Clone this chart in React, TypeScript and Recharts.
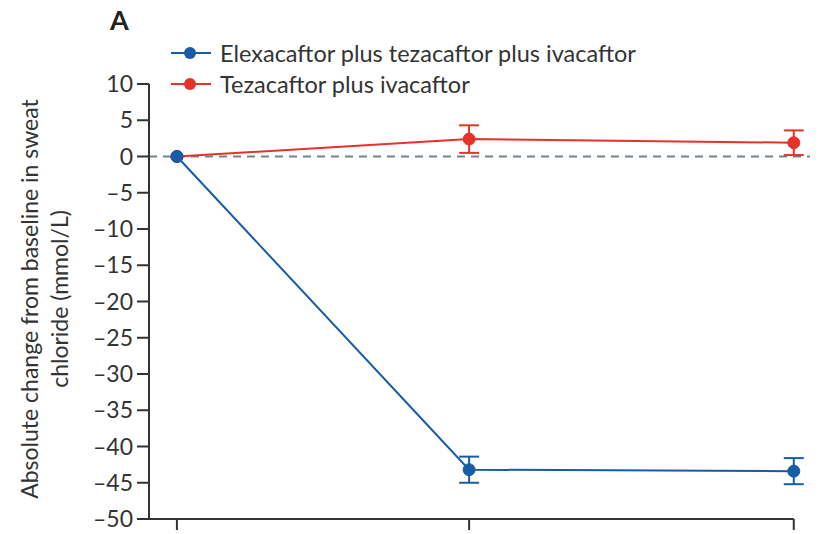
import { CartesianGrid, ErrorBar, Line, LineChart, ReferenceLine, XAxis, YAxis } from 'recharts';

// visit positions along the time axis (tick labels are cropped in the source)
const visits = [0, 9, 19];
const elxMean = [0, -43.2, -43.4];
const elxErr = [null, 1.8, 1.8];
const tezMean = [0, 2.4, 1.9];
const tezErr = [null, 1.9, 1.7];
const yTicks = [10, 5, 0, -5, -10, -15, -20, -25, -30, -35, -40, -45, -50];

const seriesNames = ['Elexacaftor plus tezacaftor plus ivacaftor', 'Tezacaftor plus ivacaftor'];
const BLUE = '#165ca6';
const RED = '#e5332a';
const AXIS = '#333333';
const FONT = 'Lato, "Open Sans", sans-serif';

const data = visits.map((v, i) => ({
  visit: v,
  elx: elxMean[i],
  elxErr: elxErr[i],
  tez: tezMean[i],
  tezErr: tezErr[i],
}));

function YLabel() {
  return (
    <text transform="translate(38, 299) rotate(-90)" textAnchor="middle" fill={AXIS} fontSize={23} fontFamily={FONT}>
      <tspan x={0} dy={0}>Absolute change from baseline in sweat</tspan>
      <tspan x={0} dy={30}>chloride (mmol/L)</tspan>
    </text>
  );
}

function LegendRow({ color, label }: { color: string; label: string }) {
  return (
    <div style={{ display: 'flex', alignItems: 'center', height: 31 }}>
      <svg width={48} height={16} style={{ marginRight: 1 }}>
        <line x1={0} y1={8} x2={40} y2={8} stroke={color} strokeWidth={2} />
        <circle cx={19} cy={8} r={6} fill={color} />
      </svg>
      <span style={{ fontSize: 23.5, color: AXIS }}>{label}</span>
    </div>
  );
}

export default function App() {
  return (
    <div style={{ position: 'absolute', left: 0, top: 0, width: 836, height: 534, background: '#fff', fontFamily: FONT }}>
      <div style={{ position: 'absolute', left: 110, top: 3, fontSize: 27, fontWeight: 700, color: '#222' }}>A</div>
      <div style={{ position: 'absolute', left: 171, top: 37 }}>
        <LegendRow color={BLUE} label={seriesNames[0]} />
        <LegendRow color={RED} label={seriesNames[1]} />
      </div>
      <LineChart width={836} height={534} data={data} margin={{ top: 84, right: 26, bottom: 0, left: 0 }}>
        <CartesianGrid stroke="none" />
        <XAxis
          type="number"
          dataKey="visit"
          domain={[-0.86, 19.5]}
          ticks={visits}
          axisLine={false}
          tickLine={{ stroke: AXIS, strokeWidth: 2 }}
          tickSize={11}
          tick={() => <g />}
          height={15}
        />
        <YAxis
          type="number"
          domain={[-50, 10]}
          ticks={yTicks}
          interval={0}
          width={149}
          axisLine={{ stroke: AXIS, strokeWidth: 2 }}
          tickLine={{ stroke: AXIS, strokeWidth: 2 }}
          tickSize={12}
          tickMargin={4}
          tick={{ fill: AXIS, fontSize: 23, fontFamily: FONT }}
          tickFormatter={(v: number) => String(v).replace('-', '\u2013')}
          label={<YLabel />}
        />
        <ReferenceLine
          segment={[{ x: -0.86, y: -50 }, { x: 19, y: -50 }]}
          stroke={AXIS}
          strokeWidth={2}
          ifOverflow="visible"
        />
        <ReferenceLine y={0} stroke="#73858a" strokeWidth={2} strokeDasharray="8 6" />
        <Line
          dataKey="tez"
          name={seriesNames[1]}
          stroke={RED}
          strokeWidth={2}
          dot={{ r: 6, fill: RED, stroke: RED, strokeWidth: 1 }}
          isAnimationActive={false}
        >
          <ErrorBar dataKey="tezErr" direction="y" width={10} stroke={RED} strokeWidth={2} />
        </Line>
        <Line
          dataKey="elx"
          name={seriesNames[0]}
          stroke={BLUE}
          strokeWidth={2}
          dot={{ r: 6, fill: BLUE, stroke: BLUE, strokeWidth: 1 }}
          isAnimationActive={false}
        >
          <ErrorBar dataKey="elxErr" direction="y" width={10} stroke={BLUE} strokeWidth={2} />
        </Line>
      </LineChart>
    </div>
  );
}
